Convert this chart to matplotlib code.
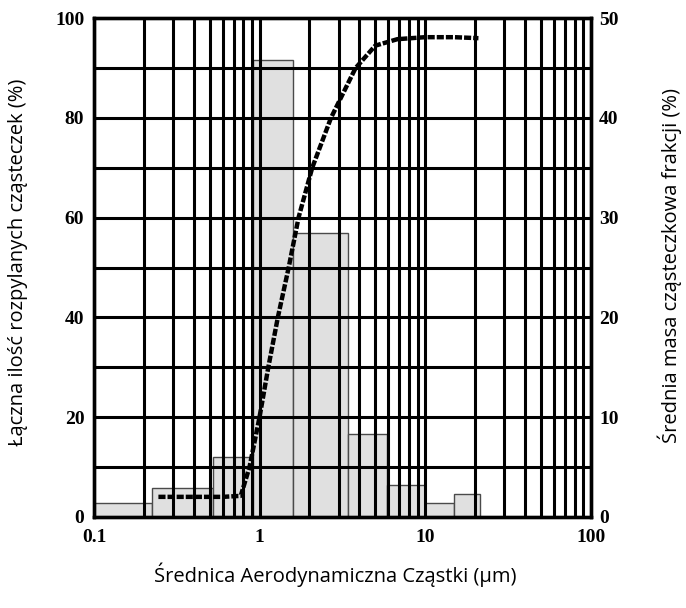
import matplotlib
matplotlib.use("Agg")
import matplotlib.pyplot as plt
import numpy as np
from matplotlib.ticker import FixedLocator, NullFormatter

# size-fraction histogram (right axis, %)
bin_edges = [0.1, 0.225, 0.52, 0.91, 1.6, 3.4, 5.9, 10.0, 15.0, 21.5]
mass_frac = [1.4, 2.9, 6.0, 45.8, 28.5, 8.3, 3.2, 1.4, 2.3]

# cumulative curve (left axis, %)
cum_x = [0.245, 0.4, 0.6, 0.77, 0.87, 1.0, 1.13, 1.29, 1.5, 1.72, 2.08, 2.7,
         3.8, 5.0, 6.8, 10.0, 15.0, 21.0]
cum_y = [4.0, 4.0, 4.0, 4.2, 10.0, 20.0, 30.0, 40.0, 50.0, 60.0, 70.0, 80.0,
         90.0, 94.5, 95.8, 96.2, 96.2, 96.0]

left_ticks = [0, 20, 40, 60, 80, 100]
right_ticks = [0, 10, 20, 30, 40, 50]
x_ticks = [0.1, 1, 10, 100]
x_labels = ["0.1", "1", "10", "100"]

tick_font = dict(family="Liberation Serif", weight="bold", size=14)
label_font = dict(family="Open Sans", size=14.5)

fig = plt.figure(figsize=(6.86, 6.08), dpi=100)
ax = fig.add_axes([0.137, 0.150, 0.724, 0.820])
ax2 = ax.twinx()

ax.set_xscale("log")
ax.set_xlim(0.1, 100)
ax.set_ylim(0, 100)
ax2.set_ylim(0, 50)

# histogram drawn on the right axis
widths = np.diff(bin_edges)
ax2.bar(bin_edges[:-1], mass_frac, width=widths, align="edge",
        color="#e0e0e0", edgecolor="#4a4a4a", linewidth=1.0, zorder=1)

# grid: every minor decade step vertically, every 10 % horizontally
minor = [m * 10.0 ** d for d in (-1, 0, 1) for m in range(1, 10)] + [100]
for xv in minor:
    ax2.axvline(xv, color="black", lw=2.2, zorder=2)
for yv in range(10, 100, 10):
    ax2.axhline(yv / 2, color="black", lw=2.2, zorder=2)

ax2.plot(cum_x, np.array(cum_y) / 2, color="black", lw=3.2,
         ls=(0, (1.6, 0.45)), zorder=3)

ax.set_zorder(ax2.get_zorder() + 1)
ax.patch.set_visible(False)

ax.xaxis.set_major_locator(FixedLocator(x_ticks))
ax.set_xticklabels(x_labels, fontdict=tick_font)
ax.xaxis.set_minor_formatter(NullFormatter())
ax.tick_params(axis="x", which="both", length=0, pad=9)
ax.set_yticks(left_ticks)
ax.set_yticklabels([str(t) for t in left_ticks], fontdict=tick_font)
ax.tick_params(axis="y", length=0, pad=7)
ax2.set_yticks(right_ticks)
ax2.set_yticklabels([str(t) for t in right_ticks], fontdict=tick_font)
ax2.tick_params(axis="y", length=0, pad=6)

for a in (ax, ax2):
    for s in a.spines.values():
        s.set_linewidth(2.4)
        s.set_color("black")

fig.text(0.488, 0.054, "Średnica Aerodynamiczna Cząstki (µm)",
         ha="center", va="center", **label_font)
fig.text(0.026, 0.569, "Łączna ilość rozpylanych cząsteczek (%)",
         ha="center", va="center", rotation=90, **label_font)
fig.text(0.977, 0.564, "Średnia masa cząsteczkowa frakcji (%)",
         ha="center", va="center", rotation=90, **label_font)

fig.savefig("out.png", dpi=100)
